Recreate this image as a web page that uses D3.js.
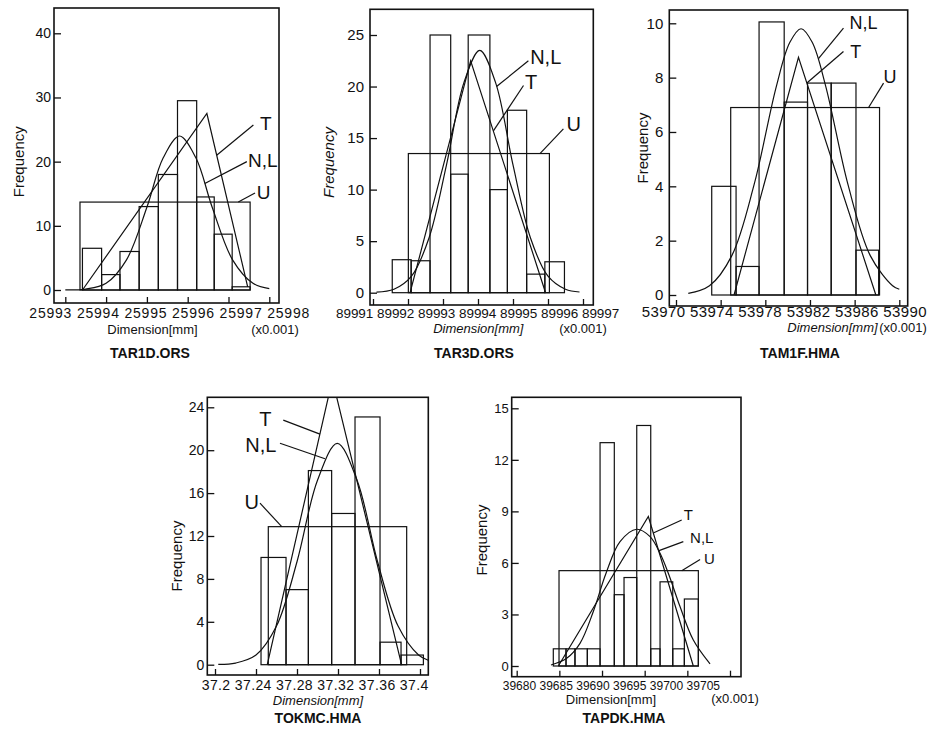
<!DOCTYPE html>
<html>
<head>
<meta charset="utf-8">
<script src="https://cdn.jsdelivr.net/npm/d3@7"></script>
<style>
  body { margin: 0; background: #fff; }
  svg { display: block; font-family: "Liberation Sans", Arial, sans-serif; }
  .mark { fill: none; stroke: #111; stroke-width: 1.2; }
  .frame { fill: none; stroke: #111; stroke-width: 1.6; }
  .tick line { stroke: #111; stroke-width: 1.3; }
</style>
</head>
<body>
<svg id="fig" width="929" height="735"></svg>
<script>
// ---- values (x in the units of the axis, y = frequency) ----

// TAR1D.ORS
const tar1dEdges = [25993.42, 25993.89, 25994.34, 25994.81, 25995.28, 25995.75, 25996.22, 25996.65, 25997.09, 25997.53];
const tar1dFreq  = [6.5, 2.4, 6.0, 13.0, 18.0, 29.5, 14.5, 8.7, 0.5];
const tar1dU     = [25993.36, 25997.53, 13.7];
const tar1dT     = [[25993.42, 0], [25996.47, 27.5], [25997.47, 0.5]];
const tar1dN     = [[25993.0, 0.01], [25993.5, 0.15], [25994.0, 1.05], [25994.5, 4.7], [25995.0, 12.9], [25995.4, 20.6],
                    [25995.8, 24.0], [25996.2, 20.6], [25996.6, 12.9], [25997.1, 4.7], [25997.6, 1.05], [25998.0, 0.22]];
const tar1dXTicks = [25993, 25994, 25995, 25996, 25997, 25998];
const tar1dYTicks = [0, 10, 20, 30, 40];

// TAR3D.ORS
const tar3dEdges = [89991.55, 89992.09, 89992.63, 89993.22, 89993.72, 89994.34, 89994.84, 89995.39, 89995.91, 89996.47];
const tar3dFreq  = [3.2, 3.1, 25.0, 11.5, 25.0, 10.0, 17.7, 1.8, 3.0];
const tar3dU     = [89992.01, 89996.04, 13.5];
const tar3dT     = [[89992.06, 0], [89993.79, 22.5], [89995.93, 0]];
const tar3dN     = [[89991.1, 0.05], [89991.6, 0.33], [89992.1, 1.6], [89992.6, 5.3], [89993.1, 12.4], [89993.6, 20.4],
                    [89994.05, 23.5], [89994.5, 20.4], [89995.0, 12.4], [89995.5, 5.3], [89996.0, 1.6], [89996.5, 0.33], [89996.9, 0.07]];
const tar3dXTicks = [89991, 89992, 89993, 89994, 89995, 89996, 89997];
const tar3dYTicks = [0, 5, 10, 15, 20, 25];

// TAM1F.HMA
const tam1fEdges = [53973.2, 53975.38, 53977.44, 53979.69, 53981.78, 53983.9, 53986.12, 53988.15];
const tam1fFreq  = [4.0, 1.05, 10.05, 7.1, 7.8, 7.8, 1.65];
const tam1fU     = [53974.9, 53988.23, 6.9];
const tam1fT     = [[53975.2, 0], [53980.97, 8.75], [53987.9, 0]];
const tam1fN     = [[53971.1, 0.06], [53973.0, 0.34], [53975.0, 1.45], [53977.0, 4.07], [53979.0, 7.7], [53980.2, 9.3],
                    [53981.2, 9.8], [53982.2, 9.3], [53983.4, 7.7], [53985.4, 4.07], [53987.4, 1.45], [53989.4, 0.34], [53990.0, 0.21]];
const tam1fXTicks = [53970, 53974, 53978, 53982, 53986, 53990];
const tam1fYTicks = [0, 2, 4, 6, 8, 10];

// TOKMC.HMA
const tokmcEdges = [37.2449, 37.2693, 37.2911, 37.3138, 37.3366, 37.361, 37.3815, 37.4033];
const tokmcFreq  = [10.0, 7.0, 18.1, 14.1, 23.1, 2.1, 0.9];
const tokmcU     = [37.252, 37.387, 12.87];
const tokmcT     = [[37.251, 0], [37.3145, 26.6], [37.382, 0]];
const tokmcN     = [[37.2032, 0.03], [37.22, 0.15], [37.24, 0.9], [37.26, 3.6], [37.28, 9.6], [37.30, 17.2],
                    [37.3193, 20.64], [37.3386, 17.2], [37.3586, 9.6], [37.3786, 3.6], [37.3986, 0.9], [37.408, 0.41]];
const tokmcXTicks = [37.2, 37.24, 37.28, 37.32, 37.36, 37.4];
const tokmcYTicks = [0, 4, 8, 12, 16, 20, 24];

// TAPDK.HMA
const tapdkEdges = [39684.29, 39685.78, 39686.83, 39688.28, 39689.77, 39691.44, 39692.58, 39694.07, 39695.71, 39696.8, 39698.29, 39699.65, 39701.29];
const tapdkFreq  = [1, 1, 1, 1, 13, 4.15, 5.15, 14, 1, 4.9, 1, 3.9];
const tapdkU     = [39684.96, 39701.29, 5.55];
const tapdkT     = [[39684.88, 0], [39695.43, 8.7], [39700.7, 0]];
const tapdkN     = [[39684.02, 0.06], [39685.86, 0.45], [39687.42, 1.32], [39688.98, 3.17], [39690.47, 5.4], [39692.11, 7.24],
                    [39694.07, 7.96], [39695.63, 7.53], [39696.8, 6.56], [39697.77, 5.4], [39699.14, 3.46], [39700.7, 1.51], [39702.66, 0.12]];
const tapdkXTicks = [39680, 39685, 39690, 39695, 39700, 39705];
const tapdkYTicks = [0, 3, 6, 9, 12, 15];

// ---- panel layout (pixel boxes, fonts, label placement) ----
const panels = [
  { id: "p1", title: "TAR1D.ORS", edges: tar1dEdges, freq: tar1dFreq, u: tar1dU, tri: tar1dT, norm: tar1dN,
    xTicks: tar1dXTicks, yTicks: tar1dYTicks, scaled: true,
    xr: [65.3, 269.3], yr: [290, 33.3], frame: { l: 54, t: 8, r: 279, b: 303 },
    xRow: [29.3, 309.3, 318, 14], yFont: 14, yPad: 3, noteFont: 19,
    yTitle: [18.3, 161.7, false], dim: [152.5, 334, false], mult: [275, 334], titlePos: [150, 358],
    notes: [
      { t: "T",   tx: 25997.77, ty: 26.0,  a: [25997.61, 25.7], b: [25996.71, 21.0] },
      { t: "N,L", tx: 25997.48, ty: 20.25, a: [25997.45, 20.0], b: [25996.42, 16.6] },
      { t: "U",   tx: 25997.69, ty: 15.2,  a: [25997.65, 15.1], b: [25997.24, 13.7] }
    ] },
  { id: "p2", title: "TAR3D.ORS", edges: tar3dEdges, freq: tar3dFreq, u: tar3dU, tri: tar3dT, norm: tar3dN,
    xTicks: tar3dXTicks, yTicks: tar3dYTicks, scaled: true,
    xr: [373, 583], yr: [292.7, 35], frame: { l: 370, t: 9.3, r: 593.3, b: 305 },
    xRow: [336, 619.3, 318, 13.5], yFont: 15, yPad: 6, noteFont: 20,
    yTitle: [328.3, 162.5, true], dim: [478.3, 333, true], mult: [583, 333], titlePos: [474, 358],
    notes: [
      { t: "N,L", tx: 89995.49, ty: 22.85, a: [89995.44, 22.5], b: [89994.53, 20.0] },
      { t: "T",   tx: 89995.34, ty: 20.4,  a: [89995.3, 20.1],  b: [89994.44, 15.7] },
      { t: "U",   tx: 89996.53, ty: 16.4,  a: [89996.44, 15.9], b: [89995.77, 13.5] }
    ] },
  { id: "p3", title: "TAM1F.HMA", edges: tam1fEdges, freq: tam1fFreq, u: tam1fU, tri: tam1fT, norm: tam1fN,
    xTicks: tam1fXTicks, yTicks: tam1fYTicks, scaled: true,
    xr: [676, 899.3], yr: [295, 23.3], frame: { l: 669.3, t: 10, r: 907.7, b: 306 },
    xRow: [641.7, 926.7, 317, 15], yFont: 15, yPad: 6, noteFont: 18,
    yTitle: [642, 148, false], dim: [832.5, 332, true], mult: [903, 332], titlePos: [800, 358],
    notes: [
      { t: "N,L", tx: 53985.54, ty: 10.0, a: [53985.0, 9.82],  b: [53982.76, 8.7] },
      { t: "T",   tx: 53985.6,  ty: 8.96, a: [53985.0, 8.96],  b: [53981.72, 7.8] },
      { t: "U",   tx: 53988.59, ty: 8.04, a: [53988.59, 7.8],  b: [53987.25, 6.9] }
    ] },
  { id: "p4", title: "TOKMC.HMA", edges: tokmcEdges, freq: tokmcFreq, u: tokmcU, tri: tokmcT, norm: tokmcN,
    xTicks: tokmcXTicks, yTicks: tokmcYTicks, scaled: false,
    xr: [215, 420], yr: [664.7, 407.3], frame: { l: 207.3, t: 397.3, r: 428.3, b: 675 },
    xRow: [201.7, 428.3, 690, 14], yFont: 14, yPad: 3, noteFont: 20,
    yTitle: [176, 556, false], dim: [318, 705, true], mult: null, titlePos: [318, 723],
    notes: [
      { t: "T",   tx: 37.2491, ty: 22.9, a: [37.2666, 22.8],  b: [37.3024, 21.5], mid: true },
      { t: "N,L", tx: 37.2447, ty: 20.5, a: [37.2634, 20.65], b: [37.3073, 19.2], mid: true },
      { t: "U",   tx: 37.2358, ty: 15.2, a: [37.2439, 15.06], b: [37.2651, 12.87], mid: true }
    ] },
  { id: "p5", title: "TAPDK.HMA", edges: tapdkEdges, freq: tapdkFreq, u: tapdkU, tri: tapdkT, norm: tapdkN,
    xTicks: tapdkXTicks, yTicks: tapdkYTicks, scaled: true,
    xr: [516.7, 730], yr: [666, 408.3], frame: { l: 511.7, t: 397.3, r: 741, b: 676.7 },
    xRow: [502.7, 720, 690, 12], yFont: 13, yPad: 3, noteFont: 15,
    yTitle: [481, 540, false], dim: [611, 704, false], mult: [735, 703], titlePos: [624, 723],
    notes: [
      { t: "T",   tx: 39700.12, ty: 8.8,  a: [39699.34, 8.5],  b: [39696.01, 7.74], mid: true },
      { t: "N,L", tx: 39701.69, ty: 7.5,  a: [39699.53, 7.24], b: [39696.6, 6.7],   mid: true },
      { t: "U",   tx: 39702.6,  ty: 6.25, a: [39701.49, 6.2],  b: [39699.34, 5.55], mid: true }
    ] }
];

const fig = d3.select("#fig");

function drawPanel(c) {
  const x = d3.scaleLinear().domain([c.xTicks[0], c.xTicks[c.xTicks.length - 1]]).range(c.xr);
  const y = d3.scaleLinear().domain([c.yTicks[0], c.yTicks[c.yTicks.length - 1]]).range(c.yr);
  const f = c.frame;
  const g = fig.append("g").attr("class", "panel " + c.id);

  g.append("clipPath").attr("id", "clip-" + c.id)
    .append("rect")
      .attr("x", f.l).attr("y", f.t)
      .attr("width", f.r - f.l).attr("height", f.b - f.t);

  const plot = g.append("g").attr("clip-path", "url(#clip-" + c.id + ")");

  // histogram of the measured dimensions
  plot.selectAll("rect.bar")
    .data(c.freq)
    .join("rect")
      .attr("class", "bar mark")
      .attr("x", (d, i) => x(c.edges[i]))
      .attr("width", (d, i) => x(c.edges[i + 1]) - x(c.edges[i]))
      .attr("y", d => y(d))
      .attr("height", d => y(0) - y(d));

  // uniform fit (U)
  plot.append("rect")
    .attr("class", "mark")
    .attr("x", x(c.u[0]))
    .attr("width", x(c.u[1]) - x(c.u[0]))
    .attr("y", y(c.u[2]))
    .attr("height", y(0) - y(c.u[2]));

  // triangular fit (T)
  const straight = d3.line().x(d => x(d[0])).y(d => y(d[1]));
  plot.append("path").datum(c.tri).attr("class", "mark").attr("d", straight);

  // normal / logistic fit (N,L)
  const smooth = d3.line().x(d => x(d[0])).y(d => y(d[1])).curve(d3.curveCatmullRom.alpha(0.5));
  plot.append("path").datum(c.norm).attr("class", "mark").attr("d", smooth);

  // frame + inward ticks
  g.append("rect").attr("class", "frame")
    .attr("x", f.l).attr("y", f.t)
    .attr("width", f.r - f.l).attr("height", f.b - f.t);

  const xAxis = g.append("g")
    .attr("transform", "translate(0," + f.b + ")")
    .call(d3.axisBottom(x).tickValues(c.xTicks).tickSize(-6).tickFormat(""));
  xAxis.select(".domain").remove();

  const yAxis = g.append("g")
    .attr("transform", "translate(" + f.l + ",0)")
    .call(d3.axisLeft(y).tickValues(c.yTicks).tickSize(-7).tickPadding(c.yPad));
  yAxis.select(".domain").remove();
  yAxis.attr("font-family", null).attr("font-size", c.yFont);
  yAxis.selectAll("text").attr("fill", "#111");

  // x tick labels: typeset as one row under the axis, like the original
  const fmt = x.tickFormat(c.xTicks.length, c.scaled ? "d" : "");
  g.append("text")
    .attr("x", c.xRow[0]).attr("y", c.xRow[2])
    .attr("font-size", c.xRow[3])
    .attr("textLength", c.xRow[1] - c.xRow[0])
    .attr("lengthAdjust", "spacing")
    .attr("fill", "#111")
    .text(c.xTicks.map(fmt).join(" "));

  g.append("text")
    .attr("transform", "translate(" + c.yTitle[0] + "," + c.yTitle[1] + ") rotate(-90)")
    .attr("text-anchor", "middle").attr("dominant-baseline", "central")
    .attr("font-size", 15).attr("font-style", c.yTitle[2] ? "italic" : null)
    .attr("fill", "#111")
    .text("Frequency");

  g.append("text")
    .attr("x", c.dim[0]).attr("y", c.dim[1])
    .attr("text-anchor", "middle").attr("font-size", 13)
    .attr("font-style", c.dim[2] ? "italic" : null)
    .attr("fill", "#111")
    .text("Dimension[mm]");

  if (c.mult) {
    g.append("text")
      .attr("x", c.mult[0]).attr("y", c.mult[1])
      .attr("text-anchor", "middle").attr("font-size", 13)
      .attr("fill", "#111")
      .text("(x0.001)");
  }

  g.append("text")
    .attr("x", c.titlePos[0]).attr("y", c.titlePos[1])
    .attr("text-anchor", "middle").attr("font-size", 14).attr("font-weight", "bold")
    .attr("fill", "#111")
    .text(c.title);

  // curve labels with leader lines
  const notes = g.append("g");
  notes.selectAll("line")
    .data(c.notes)
    .join("line")
      .attr("class", "mark")
      .attr("x1", d => x(d.a[0])).attr("y1", d => y(d.a[1]))
      .attr("x2", d => x(d.b[0])).attr("y2", d => y(d.b[1]));
  notes.selectAll("text")
    .data(c.notes)
    .join("text")
      .attr("x", d => x(d.tx)).attr("y", d => y(d.ty))
      .attr("text-anchor", d => d.mid ? "middle" : "start")
      .attr("dominant-baseline", "central")
      .attr("font-size", c.noteFont)
      .attr("fill", "#111")
      .text(d => d.t);
}

panels.forEach(drawPanel);
</script>
</body>
</html>
